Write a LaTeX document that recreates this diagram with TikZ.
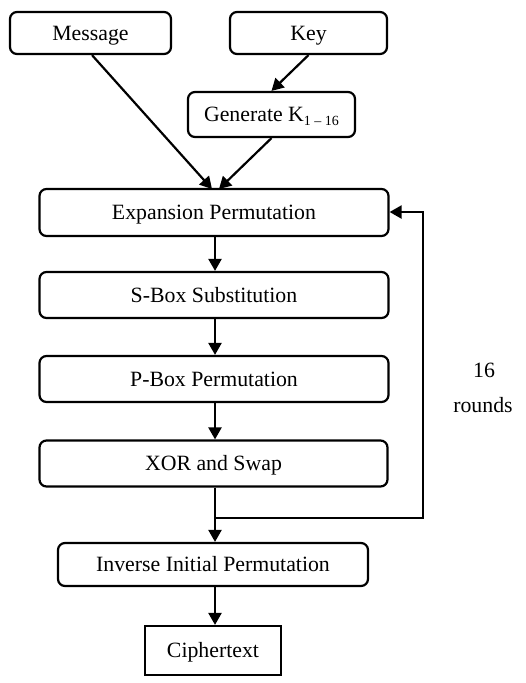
\documentclass[tikz,border=0pt]{standalone}
\usepackage{fontspec}
\setmainfont{Liberation Serif}
\usetikzlibrary{arrows.meta}
\begin{document}
\begin{tikzpicture}[x=1pt,y=-1pt,
  box/.style={draw,line width=2.2pt,rounded corners=7pt,inner sep=0pt,
    text height=14pt,text depth=0pt,
    font=\fontsize{21.8}{24}\selectfont},
  sharpbox/.style={draw,line width=2.2pt,inner sep=0pt,
    text height=14pt,text depth=0pt,
    font=\fontsize{21.8}{24}\selectfont},
  lbl/.style={font=\fontsize{21.8}{24}\selectfont,inner sep=0pt},
  arr/.style={line width=2.2pt,-{Triangle[length=12pt,width=13pt]}}]
\useasboundingbox (0,0) rectangle (526,683);
\node[box,minimum width=161pt,minimum height=42pt] (msg) at (90.5,33) {Message};
\node[box,minimum width=157pt,minimum height=42pt] (key) at (308.5,33) {Key};
\node[box,minimum width=167pt,minimum height=45pt] (gen) at (271.5,114.5)
  {Generate K\raisebox{-0.35ex}{\fontsize{14}{15}\selectfont 1 – 16}};
\node[box,minimum width=349pt,minimum height=47pt] (exp) at (214,212.5) {Expansion Permutation};
\node[box,minimum width=349pt,minimum height=46pt] (sbox) at (214,295) {S-Box Substitution};
\node[box,minimum width=349pt,minimum height=46pt] (pbox) at (214,379) {P-Box Permutation};
\node[box,minimum width=348pt,minimum height=46pt] (xor) at (213.5,463.5) {XOR and Swap};
\node[box,minimum width=310pt,minimum height=43pt] (inv) at (213,564.5) {Inverse Initial Permutation};
\node[sharpbox,minimum width=136pt,minimum height=49pt] (ciph) at (213,650.5) {Ciphertext};
\node[lbl] (n16) at (484,370) {16};
\node[lbl] (rounds) at (483,405) {rounds};
\coordinate (mt) at (212,189);
\coordinate (gt) at (219,189);
\draw[arr] (msg.south) ++(1.5,0) coordinate (ms) (ms) -- (mt);
\draw[arr] (key.south) -- (gen.north);
\draw[arr] (gen.south) -- (gt);
\draw[arr] (exp.south -| 215,0) -- (sbox.north -| 215,0);
\draw[arr] (sbox.south -| 215,0) -- (pbox.north -| 215,0);
\draw[arr] (pbox.south -| 215,0) -- (xor.north -| 215,0);
\draw[arr] (xor.south -| 215,0) -- (inv.north -| 215,0);
\draw[arr] (inv.south -| 215,0) -- (ciph.north -| 215,0);
\coordinate (j) at (215,518);
\draw[arr] (j) -- (423,518) -- (423,212) -- (exp.east |- 0,212);
\end{tikzpicture}
\end{document}
